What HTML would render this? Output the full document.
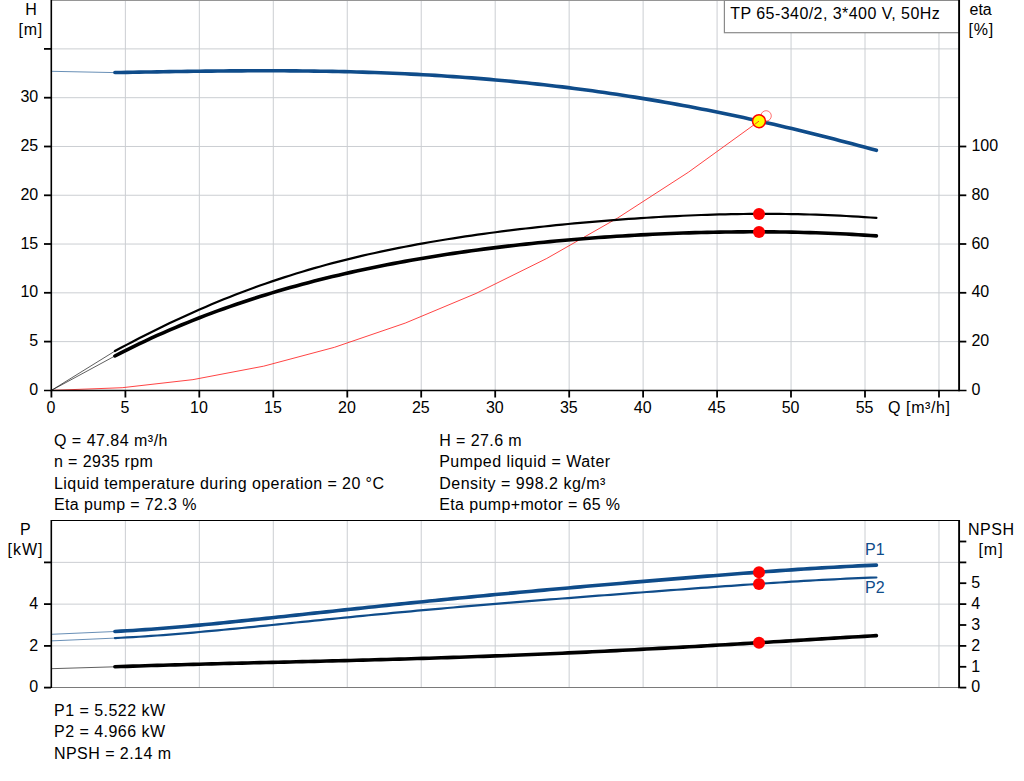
<!DOCTYPE html>
<html><head><meta charset="utf-8"><title>Pump curve</title>
<style>
html,body{margin:0;padding:0;background:#fff;}
body{width:1024px;height:781px;overflow:hidden;font-family:"Liberation Sans",sans-serif;}
svg{display:block;}
</style></head><body>
<svg width="1024" height="781" viewBox="0 0 1024 781">
<rect width="1024" height="781" fill="#fff"/>
<g stroke="#cbced2" stroke-width="1">
<line x1="125.37" y1="0" x2="125.37" y2="390"/>
<line x1="199.33" y1="0" x2="199.33" y2="390"/>
<line x1="273.29" y1="0" x2="273.29" y2="390"/>
<line x1="347.26" y1="0" x2="347.26" y2="390"/>
<line x1="421.22" y1="0" x2="421.22" y2="390"/>
<line x1="495.19" y1="0" x2="495.19" y2="390"/>
<line x1="569.15" y1="0" x2="569.15" y2="390"/>
<line x1="643.12" y1="0" x2="643.12" y2="390"/>
<line x1="717.08" y1="0" x2="717.08" y2="390"/>
<line x1="791.05" y1="0" x2="791.05" y2="390"/>
<line x1="865.01" y1="0" x2="865.01" y2="390"/>
<line x1="938.98" y1="0" x2="938.98" y2="390"/>
<line x1="52" y1="341.62" x2="959" y2="341.62"/>
<line x1="52" y1="292.83" x2="959" y2="292.83"/>
<line x1="52" y1="244.04" x2="959" y2="244.04"/>
<line x1="52" y1="195.26" x2="959" y2="195.26"/>
<line x1="52" y1="146.47" x2="959" y2="146.47"/>
<line x1="52" y1="97.69" x2="959" y2="97.69"/>
<line x1="52" y1="48.90" x2="959" y2="48.90"/>
</g>
<line x1="51" y1="0.5" x2="960" y2="0.5" stroke="#969696" stroke-width="1"/>
<rect x="724.4" y="0.4" width="235" height="32.3" fill="#fff" stroke="#8a8a8a" stroke-width="1.2"/>
<path d="M51.40 390.40 L122.17 387.71 L192.94 379.63 L263.71 366.16 L334.48 347.31 L405.25 323.08 L476.02 293.45 L546.79 258.45 L617.56 218.05 L688.33 172.27 L759.10 121.11" fill="none" stroke="#ff2222" stroke-width="0.85"/>
<path d="M51.2 71.3 L114.9 72.6" fill="none" stroke="#0f4c8a" stroke-width="0.9" stroke-opacity="0.7"/>
<path d="M51.2 390.5 L114.9 351.1" fill="none" stroke="#000" stroke-width="0.9" stroke-opacity="0.7"/>
<path d="M51.2 390.5 L114.9 356.0" fill="none" stroke="#000" stroke-width="0.9" stroke-opacity="0.7"/>
<path d="M114.90 72.57 L120.94 72.46 L126.99 72.36 L133.03 72.26 L139.07 72.15 L145.12 72.05 L151.16 71.95 L157.21 71.85 L163.25 71.75 L169.29 71.65 L175.34 71.56 L181.38 71.47 L187.42 71.38 L193.47 71.30 L199.51 71.22 L205.55 71.15 L211.60 71.08 L217.64 71.02 L223.69 70.96 L229.73 70.92 L235.77 70.87 L241.82 70.84 L247.86 70.81 L253.90 70.79 L259.95 70.78 L265.99 70.77 L272.03 70.78 L278.08 70.79 L284.12 70.82 L290.17 70.85 L296.21 70.90 L302.25 70.95 L308.30 71.02 L314.34 71.10 L320.38 71.19 L326.43 71.29 L332.47 71.40 L338.52 71.53 L344.56 71.67 L350.60 71.82 L356.65 71.98 L362.69 72.16 L368.73 72.35 L374.78 72.56 L380.82 72.77 L386.86 73.01 L392.91 73.26 L398.95 73.52 L405.00 73.80 L411.04 74.09 L417.08 74.40 L423.13 74.73 L429.17 75.07 L435.21 75.42 L441.26 75.80 L447.30 76.19 L453.34 76.59 L459.39 77.02 L465.43 77.46 L471.48 77.91 L477.52 78.39 L483.56 78.88 L489.61 79.39 L495.65 79.92 L501.69 80.46 L507.74 81.02 L513.78 81.60 L519.82 82.20 L525.87 82.82 L531.91 83.46 L537.96 84.11 L544.00 84.78 L550.04 85.47 L556.09 86.18 L562.13 86.91 L568.17 87.66 L574.22 88.42 L580.26 89.21 L586.30 90.01 L592.35 90.83 L598.39 91.68 L604.44 92.54 L610.48 93.42 L616.52 94.32 L622.57 95.23 L628.61 96.17 L634.65 97.13 L640.70 98.10 L646.74 99.10 L652.78 100.11 L658.83 101.14 L664.87 102.20 L670.92 103.27 L676.96 104.36 L683.00 105.46 L689.05 106.59 L695.09 107.74 L701.13 108.90 L707.18 110.09 L713.22 111.29 L719.27 112.51 L725.31 113.75 L731.35 115.01 L737.40 116.28 L743.44 117.58 L749.48 118.89 L755.53 120.22 L761.57 121.57 L767.61 122.93 L773.66 124.32 L779.70 125.72 L785.75 127.13 L791.79 128.57 L797.83 130.02 L803.88 131.49 L809.92 132.97 L815.96 134.48 L822.01 135.99 L828.05 137.53 L834.09 139.08 L840.14 140.64 L846.18 142.22 L852.23 143.82 L858.27 145.43 L864.31 147.06 L870.36 148.70 L876.40 150.36" fill="none" stroke="#0f4c8a" stroke-width="3.6" stroke-linecap="round"/>
<path d="M114.90 351.05 L120.94 347.82 L126.99 344.63 L133.03 341.47 L139.07 338.34 L145.12 335.26 L151.16 332.22 L157.21 329.22 L163.25 326.27 L169.29 323.36 L175.34 320.50 L181.38 317.68 L187.42 314.91 L193.47 312.19 L199.51 309.52 L205.55 306.90 L211.60 304.33 L217.64 301.81 L223.69 299.34 L229.73 296.91 L235.77 294.54 L241.82 292.22 L247.86 289.95 L253.90 287.73 L259.95 285.56 L265.99 283.44 L272.03 281.36 L278.08 279.34 L284.12 277.36 L290.17 275.43 L296.21 273.55 L302.25 271.71 L308.30 269.92 L314.34 268.17 L320.38 266.46 L326.43 264.80 L332.47 263.18 L338.52 261.60 L344.56 260.06 L350.60 258.56 L356.65 257.10 L362.69 255.68 L368.73 254.30 L374.78 252.95 L380.82 251.63 L386.86 250.35 L392.91 249.11 L398.95 247.89 L405.00 246.71 L411.04 245.56 L417.08 244.44 L423.13 243.34 L429.17 242.28 L435.21 241.24 L441.26 240.23 L447.30 239.25 L453.34 238.29 L459.39 237.35 L465.43 236.44 L471.48 235.55 L477.52 234.69 L483.56 233.84 L489.61 233.02 L495.65 232.22 L501.69 231.43 L507.74 230.67 L513.78 229.92 L519.82 229.20 L525.87 228.49 L531.91 227.80 L537.96 227.12 L544.00 226.47 L550.04 225.83 L556.09 225.20 L562.13 224.60 L568.17 224.00 L574.22 223.43 L580.26 222.87 L586.30 222.32 L592.35 221.80 L598.39 221.28 L604.44 220.78 L610.48 220.30 L616.52 219.83 L622.57 219.38 L628.61 218.95 L634.65 218.53 L640.70 218.12 L646.74 217.74 L652.78 217.37 L658.83 217.01 L664.87 216.68 L670.92 216.36 L676.96 216.05 L683.00 215.77 L689.05 215.50 L695.09 215.25 L701.13 215.02 L707.18 214.81 L713.22 214.62 L719.27 214.45 L725.31 214.30 L731.35 214.17 L737.40 214.06 L743.44 213.98 L749.48 213.91 L755.53 213.87 L761.57 213.84 L767.61 213.84 L773.66 213.87 L779.70 213.92 L785.75 213.99 L791.79 214.08 L797.83 214.20 L803.88 214.34 L809.92 214.51 L815.96 214.70 L822.01 214.91 L828.05 215.15 L834.09 215.41 L840.14 215.70 L846.18 216.01 L852.23 216.34 L858.27 216.70 L864.31 217.08 L870.36 217.48 L876.40 217.91" fill="none" stroke="#000" stroke-width="2.2" stroke-linecap="round"/>
<path d="M114.90 355.98 L120.94 352.87 L126.99 349.82 L133.03 346.84 L139.07 343.91 L145.12 341.04 L151.16 338.23 L157.21 335.48 L163.25 332.79 L169.29 330.15 L175.34 327.56 L181.38 325.03 L187.42 322.55 L193.47 320.12 L199.51 317.74 L205.55 315.42 L211.60 313.14 L217.64 310.91 L223.69 308.73 L229.73 306.59 L235.77 304.50 L241.82 302.45 L247.86 300.45 L253.90 298.49 L259.95 296.57 L265.99 294.70 L272.03 292.86 L278.08 291.06 L284.12 289.31 L290.17 287.59 L296.21 285.91 L302.25 284.27 L308.30 282.66 L314.34 281.09 L320.38 279.55 L326.43 278.05 L332.47 276.58 L338.52 275.15 L344.56 273.74 L350.60 272.37 L356.65 271.03 L362.69 269.72 L368.73 268.44 L374.78 267.19 L380.82 265.97 L386.86 264.78 L392.91 263.61 L398.95 262.48 L405.00 261.36 L411.04 260.28 L417.08 259.22 L423.13 258.19 L429.17 257.18 L435.21 256.19 L441.26 255.23 L447.30 254.30 L453.34 253.38 L459.39 252.49 L465.43 251.62 L471.48 250.78 L477.52 249.95 L483.56 249.15 L489.61 248.37 L495.65 247.61 L501.69 246.86 L507.74 246.14 L513.78 245.44 L519.82 244.76 L525.87 244.10 L531.91 243.45 L537.96 242.83 L544.00 242.22 L550.04 241.63 L556.09 241.06 L562.13 240.51 L568.17 239.98 L574.22 239.46 L580.26 238.96 L586.30 238.48 L592.35 238.01 L598.39 237.56 L604.44 237.13 L610.48 236.72 L616.52 236.32 L622.57 235.94 L628.61 235.58 L634.65 235.23 L640.70 234.90 L646.74 234.58 L652.78 234.28 L658.83 234.00 L664.87 233.74 L670.92 233.49 L676.96 233.26 L683.00 233.04 L689.05 232.85 L695.09 232.66 L701.13 232.50 L707.18 232.35 L713.22 232.22 L719.27 232.11 L725.31 232.01 L731.35 231.93 L737.40 231.87 L743.44 231.83 L749.48 231.80 L755.53 231.80 L761.57 231.81 L767.61 231.84 L773.66 231.89 L779.70 231.96 L785.75 232.05 L791.79 232.15 L797.83 232.28 L803.88 232.43 L809.92 232.60 L815.96 232.79 L822.01 233.00 L828.05 233.23 L834.09 233.48 L840.14 233.76 L846.18 234.06 L852.23 234.38 L858.27 234.73 L864.31 235.10 L870.36 235.49 L876.40 235.91" fill="none" stroke="#000" stroke-width="3.6" stroke-linecap="round"/>
<g stroke="#000" fill="none">
<line x1="51.3" y1="0" x2="51.3" y2="391.2" stroke-width="1.6"/>
<line x1="959.1" y1="0" x2="959.1" y2="391.3" stroke-width="1.9"/>
<line x1="44" y1="390.5" x2="966.5" y2="390.5" stroke-width="1.5"/>
<line x1="44" y1="341.6" x2="51" y2="341.6" stroke-width="1.8"/>
<line x1="44" y1="292.8" x2="51" y2="292.8" stroke-width="1.8"/>
<line x1="44" y1="244.0" x2="51" y2="244.0" stroke-width="1.8"/>
<line x1="44" y1="195.3" x2="51" y2="195.3" stroke-width="1.8"/>
<line x1="44" y1="146.5" x2="51" y2="146.5" stroke-width="1.8"/>
<line x1="44" y1="97.7" x2="51" y2="97.7" stroke-width="1.8"/>
<line x1="44" y1="48.9" x2="51" y2="48.9" stroke-width="1.8"/>
<line x1="960" y1="341.6" x2="966.3" y2="341.6" stroke-width="1.8"/>
<line x1="960" y1="292.8" x2="966.3" y2="292.8" stroke-width="1.8"/>
<line x1="960" y1="244.0" x2="966.3" y2="244.0" stroke-width="1.8"/>
<line x1="960" y1="195.3" x2="966.3" y2="195.3" stroke-width="1.8"/>
<line x1="960" y1="146.5" x2="966.3" y2="146.5" stroke-width="1.8"/>
<line x1="51.4" y1="390" x2="51.4" y2="397.5" stroke-width="1.8"/>
<line x1="125.4" y1="390" x2="125.4" y2="397.5" stroke-width="1.8"/>
<line x1="199.3" y1="390" x2="199.3" y2="397.5" stroke-width="1.8"/>
<line x1="273.3" y1="390" x2="273.3" y2="397.5" stroke-width="1.8"/>
<line x1="347.3" y1="390" x2="347.3" y2="397.5" stroke-width="1.8"/>
<line x1="421.2" y1="390" x2="421.2" y2="397.5" stroke-width="1.8"/>
<line x1="495.2" y1="390" x2="495.2" y2="397.5" stroke-width="1.8"/>
<line x1="569.2" y1="390" x2="569.2" y2="397.5" stroke-width="1.8"/>
<line x1="643.1" y1="390" x2="643.1" y2="397.5" stroke-width="1.8"/>
<line x1="717.1" y1="390" x2="717.1" y2="397.5" stroke-width="1.8"/>
<line x1="791.0" y1="390" x2="791.0" y2="397.5" stroke-width="1.8"/>
<line x1="865.0" y1="390" x2="865.0" y2="397.5" stroke-width="1.8"/>
<line x1="939.0" y1="390" x2="939.0" y2="397.5" stroke-width="1.8"/>
</g>
<circle cx="766.1" cy="115.9" r="5.2" fill="none" stroke="#ff4d4d" stroke-width="0.8"/>
<circle cx="759.0" cy="121.2" r="6.45" fill="#ffff00" stroke="#ff0000" stroke-width="1.5"/>
<path d="M759.0 121.1 L755.0 124.1" stroke="#ff2222" stroke-width="0.85"/>
<circle cx="759.0" cy="213.9" r="6" fill="#ff0000"/>
<circle cx="759.0" cy="232.0" r="6" fill="#ff0000"/>
<g stroke="#cbced2" stroke-width="1">
<line x1="125.37" y1="521" x2="125.37" y2="687"/>
<line x1="199.33" y1="521" x2="199.33" y2="687"/>
<line x1="273.29" y1="521" x2="273.29" y2="687"/>
<line x1="347.26" y1="521" x2="347.26" y2="687"/>
<line x1="421.22" y1="521" x2="421.22" y2="687"/>
<line x1="495.19" y1="521" x2="495.19" y2="687"/>
<line x1="569.15" y1="521" x2="569.15" y2="687"/>
<line x1="643.12" y1="521" x2="643.12" y2="687"/>
<line x1="717.08" y1="521" x2="717.08" y2="687"/>
<line x1="791.05" y1="521" x2="791.05" y2="687"/>
<line x1="865.01" y1="521" x2="865.01" y2="687"/>
<line x1="938.98" y1="521" x2="938.98" y2="687"/>
<line x1="52" y1="645.89" x2="959" y2="645.89"/>
<line x1="52" y1="604.13" x2="959" y2="604.13"/>
<line x1="52" y1="562.37" x2="959" y2="562.37"/>
</g>
<line x1="51" y1="687.5" x2="960" y2="687.5" stroke="#7a7a7a" stroke-width="1"/>
<line x1="51" y1="520.5" x2="960" y2="520.5" stroke="#000" stroke-width="1.2"/>
<path d="M51.2 634.3 L114.9 631.5" fill="none" stroke="#0f4c8a" stroke-width="0.9" stroke-opacity="0.7"/>
<path d="M51.2 640.9 L114.9 638.1" fill="none" stroke="#0f4c8a" stroke-width="0.9" stroke-opacity="0.7"/>
<path d="M51.2 668.7 L114.9 666.8" fill="none" stroke="#000" stroke-width="0.9" stroke-opacity="0.7"/>
<path d="M114.90 631.47 L120.94 631.15 L126.99 630.80 L133.03 630.44 L139.07 630.04 L145.12 629.63 L151.16 629.19 L157.21 628.74 L163.25 628.26 L169.29 627.77 L175.34 627.27 L181.38 626.75 L187.42 626.21 L193.47 625.66 L199.51 625.10 L205.55 624.53 L211.60 623.95 L217.64 623.36 L223.69 622.75 L229.73 622.15 L235.77 621.53 L241.82 620.91 L247.86 620.28 L253.90 619.65 L259.95 619.01 L265.99 618.37 L272.03 617.73 L278.08 617.08 L284.12 616.43 L290.17 615.78 L296.21 615.12 L302.25 614.47 L308.30 613.82 L314.34 613.16 L320.38 612.51 L326.43 611.86 L332.47 611.20 L338.52 610.55 L344.56 609.90 L350.60 609.25 L356.65 608.61 L362.69 607.96 L368.73 607.32 L374.78 606.68 L380.82 606.04 L386.86 605.41 L392.91 604.78 L398.95 604.15 L405.00 603.53 L411.04 602.91 L417.08 602.29 L423.13 601.67 L429.17 601.06 L435.21 600.45 L441.26 599.85 L447.30 599.25 L453.34 598.65 L459.39 598.06 L465.43 597.47 L471.48 596.88 L477.52 596.30 L483.56 595.72 L489.61 595.14 L495.65 594.57 L501.69 593.99 L507.74 593.43 L513.78 592.86 L519.82 592.30 L525.87 591.74 L531.91 591.19 L537.96 590.64 L544.00 590.09 L550.04 589.54 L556.09 589.00 L562.13 588.45 L568.17 587.92 L574.22 587.38 L580.26 586.84 L586.30 586.31 L592.35 585.78 L598.39 585.26 L604.44 584.73 L610.48 584.21 L616.52 583.69 L622.57 583.17 L628.61 582.65 L634.65 582.14 L640.70 581.63 L646.74 581.12 L652.78 580.61 L658.83 580.10 L664.87 579.60 L670.92 579.10 L676.96 578.60 L683.00 578.11 L689.05 577.61 L695.09 577.12 L701.13 576.63 L707.18 576.15 L713.22 575.67 L719.27 575.19 L725.31 574.72 L731.35 574.25 L737.40 573.78 L743.44 573.32 L749.48 572.86 L755.53 572.41 L761.57 571.97 L767.61 571.53 L773.66 571.09 L779.70 570.66 L785.75 570.24 L791.79 569.83 L797.83 569.42 L803.88 569.03 L809.92 568.64 L815.96 568.26 L822.01 567.89 L828.05 567.53 L834.09 567.18 L840.14 566.85 L846.18 566.53 L852.23 566.22 L858.27 565.92 L864.31 565.64 L870.36 565.38 L876.40 565.13" fill="none" stroke="#0f4c8a" stroke-width="3.6" stroke-linecap="round"/>
<path d="M114.90 638.06 L120.94 637.77 L126.99 637.46 L133.03 637.11 L139.07 636.74 L145.12 636.35 L151.16 635.94 L157.21 635.51 L163.25 635.06 L169.29 634.59 L175.34 634.10 L181.38 633.60 L187.42 633.09 L193.47 632.56 L199.51 632.02 L205.55 631.47 L211.60 630.91 L217.64 630.35 L223.69 629.77 L229.73 629.19 L235.77 628.60 L241.82 628.00 L247.86 627.40 L253.90 626.80 L259.95 626.19 L265.99 625.59 L272.03 624.97 L278.08 624.36 L284.12 623.75 L290.17 623.13 L296.21 622.52 L302.25 621.91 L308.30 621.29 L314.34 620.68 L320.38 620.07 L326.43 619.46 L332.47 618.86 L338.52 618.25 L344.56 617.65 L350.60 617.05 L356.65 616.46 L362.69 615.87 L368.73 615.28 L374.78 614.70 L380.82 614.12 L386.86 613.54 L392.91 612.97 L398.95 612.40 L405.00 611.84 L411.04 611.28 L417.08 610.72 L423.13 610.17 L429.17 609.63 L435.21 609.08 L441.26 608.55 L447.30 608.01 L453.34 607.48 L459.39 606.95 L465.43 606.43 L471.48 605.91 L477.52 605.40 L483.56 604.89 L489.61 604.38 L495.65 603.88 L501.69 603.37 L507.74 602.88 L513.78 602.38 L519.82 601.89 L525.87 601.40 L531.91 600.91 L537.96 600.43 L544.00 599.95 L550.04 599.47 L556.09 598.99 L562.13 598.52 L568.17 598.04 L574.22 597.57 L580.26 597.10 L586.30 596.63 L592.35 596.17 L598.39 595.70 L604.44 595.24 L610.48 594.78 L616.52 594.31 L622.57 593.85 L628.61 593.39 L634.65 592.94 L640.70 592.48 L646.74 592.02 L652.78 591.57 L658.83 591.11 L664.87 590.66 L670.92 590.21 L676.96 589.76 L683.00 589.31 L689.05 588.86 L695.09 588.42 L701.13 587.97 L707.18 587.53 L713.22 587.09 L719.27 586.65 L725.31 586.22 L731.35 585.79 L737.40 585.36 L743.44 584.93 L749.48 584.51 L755.53 584.09 L761.57 583.68 L767.61 583.27 L773.66 582.87 L779.70 582.48 L785.75 582.09 L791.79 581.70 L797.83 581.33 L803.88 580.96 L809.92 580.60 L815.96 580.26 L822.01 579.92 L828.05 579.59 L834.09 579.28 L840.14 578.98 L846.18 578.69 L852.23 578.42 L858.27 578.16 L864.31 577.92 L870.36 577.69 L876.40 577.49" fill="none" stroke="#0f4c8a" stroke-width="2.2" stroke-linecap="round"/>
<path d="M114.90 666.78 L120.94 666.57 L126.99 666.36 L133.03 666.15 L139.07 665.96 L145.12 665.76 L151.16 665.57 L157.21 665.39 L163.25 665.21 L169.29 665.03 L175.34 664.85 L181.38 664.68 L187.42 664.52 L193.47 664.35 L199.51 664.19 L205.55 664.03 L211.60 663.87 L217.64 663.72 L223.69 663.57 L229.73 663.41 L235.77 663.26 L241.82 663.12 L247.86 662.97 L253.90 662.82 L259.95 662.67 L265.99 662.53 L272.03 662.38 L278.08 662.24 L284.12 662.09 L290.17 661.94 L296.21 661.80 L302.25 661.65 L308.30 661.50 L314.34 661.36 L320.38 661.21 L326.43 661.06 L332.47 660.90 L338.52 660.75 L344.56 660.59 L350.60 660.44 L356.65 660.28 L362.69 660.12 L368.73 659.96 L374.78 659.79 L380.82 659.63 L386.86 659.46 L392.91 659.28 L398.95 659.11 L405.00 658.93 L411.04 658.75 L417.08 658.57 L423.13 658.39 L429.17 658.20 L435.21 658.01 L441.26 657.81 L447.30 657.61 L453.34 657.41 L459.39 657.21 L465.43 657.00 L471.48 656.79 L477.52 656.57 L483.56 656.35 L489.61 656.13 L495.65 655.91 L501.69 655.68 L507.74 655.44 L513.78 655.21 L519.82 654.97 L525.87 654.72 L531.91 654.48 L537.96 654.22 L544.00 653.97 L550.04 653.71 L556.09 653.45 L562.13 653.18 L568.17 652.91 L574.22 652.64 L580.26 652.36 L586.30 652.08 L592.35 651.79 L598.39 651.50 L604.44 651.21 L610.48 650.91 L616.52 650.62 L622.57 650.31 L628.61 650.01 L634.65 649.70 L640.70 649.38 L646.74 649.07 L652.78 648.75 L658.83 648.42 L664.87 648.10 L670.92 647.77 L676.96 647.44 L683.00 647.10 L689.05 646.77 L695.09 646.43 L701.13 646.09 L707.18 645.74 L713.22 645.39 L719.27 645.04 L725.31 644.69 L731.35 644.34 L737.40 643.98 L743.44 643.63 L749.48 643.27 L755.53 642.91 L761.57 642.55 L767.61 642.18 L773.66 641.82 L779.70 641.45 L785.75 641.09 L791.79 640.72 L797.83 640.35 L803.88 639.99 L809.92 639.62 L815.96 639.25 L822.01 638.88 L828.05 638.52 L834.09 638.15 L840.14 637.78 L846.18 637.42 L852.23 637.05 L858.27 636.69 L864.31 636.33 L870.36 635.97 L876.40 635.61" fill="none" stroke="#000" stroke-width="3.6" stroke-linecap="round"/>
<g stroke="#000" fill="none">
<line x1="51.3" y1="520" x2="51.3" y2="688" stroke-width="1.6"/>
<line x1="959.1" y1="520" x2="959.1" y2="688.3" stroke-width="1.9"/>
<line x1="44" y1="687.6" x2="51" y2="687.6" stroke-width="1.8"/>
<line x1="44" y1="645.9" x2="51" y2="645.9" stroke-width="1.8"/>
<line x1="44" y1="604.1" x2="51" y2="604.1" stroke-width="1.8"/>
<line x1="44" y1="562.4" x2="51" y2="562.4" stroke-width="1.8"/>
<line x1="960" y1="687.6" x2="966.3" y2="687.6" stroke-width="1.8"/>
<line x1="960" y1="666.8" x2="966.3" y2="666.8" stroke-width="1.8"/>
<line x1="960" y1="645.9" x2="966.3" y2="645.9" stroke-width="1.8"/>
<line x1="960" y1="625.0" x2="966.3" y2="625.0" stroke-width="1.8"/>
<line x1="960" y1="604.1" x2="966.3" y2="604.1" stroke-width="1.8"/>
<line x1="960" y1="583.2" x2="966.3" y2="583.2" stroke-width="1.8"/>
<line x1="960" y1="562.4" x2="966.3" y2="562.4" stroke-width="1.8"/>
<line x1="960" y1="541.5" x2="966.3" y2="541.5" stroke-width="1.8"/>
</g>
<circle cx="759.0" cy="572.2" r="6" fill="#ff0000"/>
<circle cx="759.0" cy="584.0" r="6" fill="#ff0000"/>
<circle cx="759.0" cy="642.8" r="6" fill="#ff0000"/>
<g font-family="'Liberation Sans', sans-serif" font-size="16" fill="#000">
<text x="31.0" y="14.6" text-anchor="middle">H</text>
<text x="30.3" y="35.1" text-anchor="middle" textLength="23.6" lengthAdjust="spacing">[m]</text>
<text x="38.2" y="395.3" text-anchor="end">0</text>
<text x="38.2" y="346.2" text-anchor="end">5</text>
<text x="38.2" y="297.4" text-anchor="end">10</text>
<text x="38.2" y="248.6" text-anchor="end">15</text>
<text x="38.2" y="199.8" text-anchor="end">20</text>
<text x="38.2" y="151.0" text-anchor="end">25</text>
<text x="38.2" y="102.2" text-anchor="end">30</text>
<text x="971.4" y="395.3" text-anchor="start">0</text>
<text x="971.4" y="346.2" text-anchor="start">20</text>
<text x="971.4" y="297.4" text-anchor="start">40</text>
<text x="971.4" y="248.6" text-anchor="start">60</text>
<text x="971.4" y="199.8" text-anchor="start">80</text>
<text x="971.4" y="151.0" text-anchor="start">100</text>
<text x="51.0" y="412.8" text-anchor="middle">0</text>
<text x="125.0" y="412.8" text-anchor="middle">5</text>
<text x="198.9" y="412.8" text-anchor="middle">10</text>
<text x="272.9" y="412.8" text-anchor="middle">15</text>
<text x="346.9" y="412.8" text-anchor="middle">20</text>
<text x="420.8" y="412.8" text-anchor="middle">25</text>
<text x="494.8" y="412.8" text-anchor="middle">30</text>
<text x="568.8" y="412.8" text-anchor="middle">35</text>
<text x="642.7" y="412.8" text-anchor="middle">40</text>
<text x="716.7" y="412.8" text-anchor="middle">45</text>
<text x="790.6" y="412.8" text-anchor="middle">50</text>
<text x="864.6" y="412.8" text-anchor="middle">55</text>
<text x="888.0" y="412.6" text-anchor="start" textLength="62.0" lengthAdjust="spacing">Q [m&#179;/h]</text>
<text x="969.5" y="14.6" text-anchor="start">eta</text>
<text x="968.6" y="35.1" text-anchor="start" textLength="24.6" lengthAdjust="spacing">[%]</text>
<text x="730.3" y="18.8" text-anchor="start" textLength="209.5" lengthAdjust="spacing">TP 65-340/2, 3*400 V, 50Hz</text>
<text x="54.0" y="445.6" text-anchor="start" textLength="113.5" lengthAdjust="spacing">Q = 47.84 m&#179;/h</text>
<text x="54.0" y="467.0" text-anchor="start" textLength="98.9" lengthAdjust="spacing">n = 2935 rpm</text>
<text x="54.0" y="488.5" text-anchor="start" textLength="330.0" lengthAdjust="spacing">Liquid temperature during operation = 20 &#176;C</text>
<text x="54.0" y="509.9" text-anchor="start" textLength="142.4" lengthAdjust="spacing">Eta pump = 72.3 %</text>
<text x="439.2" y="445.6" text-anchor="start" textLength="82.5" lengthAdjust="spacing">H = 27.6 m</text>
<text x="439.2" y="467.0" text-anchor="start" textLength="170.9" lengthAdjust="spacing">Pumped liquid = Water</text>
<text x="439.2" y="488.5" text-anchor="start" textLength="166.2" lengthAdjust="spacing">Density = 998.2 kg/m&#179;</text>
<text x="439.2" y="509.9" text-anchor="start" textLength="180.9" lengthAdjust="spacing">Eta pump+motor = 65 %</text>
<text x="25.4" y="535.4" text-anchor="middle">P</text>
<text x="25.0" y="554.8" text-anchor="middle" textLength="35.0" lengthAdjust="spacing">[kW]</text>
<text x="38.2" y="692.0" text-anchor="end">0</text>
<text x="38.2" y="650.7" text-anchor="end">2</text>
<text x="38.2" y="608.9" text-anchor="end">4</text>
<text x="971.3" y="692.0" text-anchor="start">0</text>
<text x="971.3" y="671.6" text-anchor="start">1</text>
<text x="971.3" y="650.7" text-anchor="start">2</text>
<text x="971.3" y="629.8" text-anchor="start">3</text>
<text x="971.3" y="608.9" text-anchor="start">4</text>
<text x="971.3" y="588.0" text-anchor="start">5</text>
<text x="991.0" y="535.4" text-anchor="middle" textLength="46.0" lengthAdjust="spacing">NPSH</text>
<text x="990.5" y="555.0" text-anchor="middle" textLength="24.2" lengthAdjust="spacing">[m]</text>
<text x="865.0" y="555.0" text-anchor="start" fill="#0f4c8a">P1</text>
<text x="865.0" y="592.7" text-anchor="start" fill="#0f4c8a">P2</text>
<text x="54.0" y="715.8" text-anchor="start" textLength="111.0" lengthAdjust="spacing">P1 = 5.522 kW</text>
<text x="54.0" y="737.4" text-anchor="start" textLength="111.0" lengthAdjust="spacing">P2 = 4.966 kW</text>
<text x="54.0" y="758.8" text-anchor="start" textLength="117.0" lengthAdjust="spacing">NPSH = 2.14 m</text>
</g>
</svg>
</body></html>
